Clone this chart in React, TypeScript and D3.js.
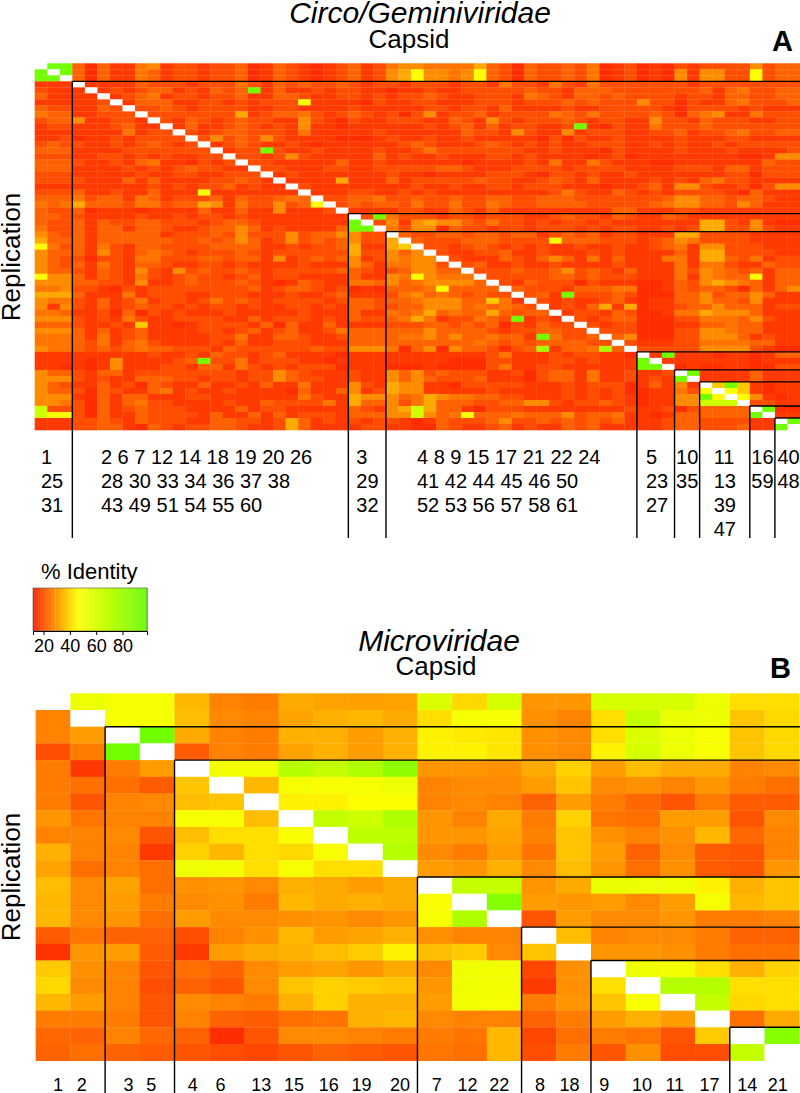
import { useEffect, useRef } from 'react';
import * as d3 from 'd3';

// % identity for each colour step used when reading panel A off the picture
const levelIdentity: Record<string, number> = {
  '0': 14, '1': 16, '2': 19, '3': 22, '4': 25, '5': 28.5, '6': 33, '7': 38, '8': 46, '9': 62, h: 75, g: 94, w: 100,
};

const panelARows = [
  'wgg3031145 1221223013 2101231245 5444463203 2232401201 0212222523 3',
  'gwg3031143 1221223013 2101231256 8554583203 2232401201 0515522823 3',
  'ggw3031143 1221223013 2101231256 8554583203 2232401201 0515522823 3',
  '111w111132 2212224213 2322321221 2221221422 1421422222 2212222222 2',
  '2111w12123 3121323g13 1121221101 1211222223 2213332222 2223134223 3',
  '31111w1234 1221223113 3211221212 2321122214 3213323222 2122133223 3',
  '111112w133 3112212122 2811110211 2211122212 2232322252 2021134222 3',
  '3221132w22 3212222112 2111121111 1221221311 1121122222 1022221211 1',
  '43311222w2 2222226123 3421232120 2512231222 2432422223 2034511422 2',
  '233511221w 2132123221 1521021122 2113215212 2232122115 2213222112 2',
  '1221112311 w131123212 1511011111 1212313122 112g102114 2223222222 2',
  '1111111412 2w21233222 1411111211 1111322152 1151222112 2312234223 3',
  '1120112122 22w2523252 1111000121 1211211111 0202112111 1211122111 1',
  '2322112123 212w123211 2101111112 3211123212 1211222112 1211212222 2',
  '3331111222 2222w122g2 1121111211 2422222221 1211102111 1211121111 2',
  '2221122121 21122w2212 5211111312 1121112212 1111012011 1111110015 5',
  '3332112134 110212w221 1111311211 1111011112 1411421110 0111111132 2',
  '3331111212 1232211w22 1112211222 2233211122 2212222111 1222133122 2',
  '2221111121 12211222w1 2111111121 1011112221 0221211211 1111122022 2',
  '2222111313 111122321w 1111611131 2222232211 2321311112 1213422111 1',
  '1111111112 1212231211 w211111111 2112112212 2211101123 1552112025 5',
  '2223112113 1118111111 1w11122112 1211111111 1242113212 1222210311 1',
  '3334233143 1222313223 43w2233422 3223223322 3332222222 3553323321 1',
  '4346333244 2336514225 238w232332 4224224322 3333222223 4553325311 1',
  '3223011101 1113113115 1112w11112 2113213111 1111113311 1221111111 1',
  '3322111121 1212212111 11111w2g42 2212212221 1232213211 3211111111 1',
  '3223132233 2221233211 11111gw251 5655324221 2122121111 1116621510 0',
  '4223133133 2112335312 11113ggw42 5503221221 2221212211 2126622521 1',
  '5323133333 1222325222 52335522w3 2233233233 1232312211 1662222111 1',
  '6333133333 3223235312 523235226w 3222333222 2833322212 3542222111 1',
  '8423142133 2222333311 2122361167 w221232121 2112112112 3415522211 1',
  '5333152134 3212223212 2222262253 5w21122311 2111212111 1316622221 1',
  '5322022144 2223323315 1232351254 55w2111321 3531413111 4416632412 2',
  '5323142133 2112212111 1211153144 552w231121 1211112111 1414421132 2',
  '5332132152 1523223212 2222332123 5533w22232 2352321311 1425432313 3',
  '8553132142 1232212312 2111131154 85444w2222 2332322211 1415433813 3',
  '5553322151 1232223210 1321144353 455553w213 2220211100 1325654313 3',
  '4452210212 2222222312 3321201033 3483333w32 2213334400 1323320313 5',
  '6663111412 2211222111 2112311124 53432322w2 31g2223200 0335233531 1',
  '5442131241 2212423212 2221233233 455533741w 2121123101 1335332511 1',
  '5152131232 2121221211 2212133223 3555343432 w121361601 1233533312 2',
  '4431120302 1211121111 1211131143 4634336323 3w12213200 1446555311 1',
  '5552121421 1222211312 2212132234 64122432g1 21w2123300 0224443521 1',
  '3332112171 1012222130 3113111122 2332323021 322w212200 0113343311 1',
  '5553131231 1112212312 3112433333 3533332122 3322w22200 0225543311 1',
  '4443141231 1111224113 3211233334 4535334331 g4223w3500 0225553121 1',
  '4443241342 1111213112 2211133333 3333343232 333322w211 1224444331 1',
  '5443232343 3222132222 2232255540 3505332023 h1334h3w22 2225555210 0',
  '1111111112 1121322123 1111011111 1111112411 12122110w1 g111011013 3',
  '1111015111 123g224122 2110111111 1110002211 12212111gw 1111111011 1',
  '1101015111 2213314212 1222011100 0100002411 22111111gg w010011002 2',
  '5332133122 2222221225 3211121153 5232221120 2331411211 2wg1111311 1',
  '5552121133 3221221225 3221121153 5322231110 2331411212 1gw1111311 1',
  '5321131203 2113112131 1411152165 5110222221 1121222013 151w7g7101 1',
  '5332032113 4121121111 0311351265 5111112111 1121212001 1428w87101 1',
  '5551031331 1122111111 1421165553 4654433221 1121212101 155g8w8510 1',
  '5542031342 2111121132 2224163352 4633322335 5212232101 155999w221 1',
  '9222031232 2211113122 1111132156 9633102221 1111111211 2023333wg0 0',
  '9882031132 2221311313 1222133355 9534833343 3352334110 1333333gw1 1',
  '1112232132 2211332212 6312121221 0132223522 3232323111 233222211w g',
  '1112233103 2122332112 6311112211 0032112312 1132311111 233222311g w',
];

const panelBValues = [
  [100, 52, 49, 49, 35, 27, 26, 33, 32, 31.5, 32, 58, 40, 60, 30, 30, 60, 60, 60, 52, 41, 41],
  [27, 100, 49, 49, 36, 28, 27, 32, 34, 35, 33, 41, 49, 48, 29, 27, 41, 66, 53, 52, 37, 40],
  [27, 31, 100, 94, 33, 27, 26, 34, 34, 31, 34, 44, 43, 42, 29, 28, 41, 58, 52, 48, 37, 40],
  [19, 26, 94, 100, 21, 27, 26, 32, 34, 31, 34, 44, 44, 42, 29, 28, 44, 60, 52, 48, 37, 40],
  [26, 15.5, 26, 31, 100, 50, 50, 71, 66, 73, 84, 30, 30, 29, 33, 39, 31, 36, 33, 33, 27, 28],
  [26, 24, 24, 21, 37, 100, 35, 49, 48, 49, 52, 27, 28, 28, 31, 37, 28, 29, 27, 30, 26, 24],
  [26, 20, 27, 28, 36, 37, 100, 44, 44, 47, 47, 27, 28, 27, 22, 31, 26, 23, 20, 26, 21, 21],
  [30, 25, 27, 27, 48, 48, 36, 100, 66, 63, 73, 30, 27, 33, 26, 39, 25, 24, 31, 31, 20, 28],
  [27, 27, 28, 20, 36, 41, 41, 48, 100, 68, 68, 30, 30, 32, 27, 37, 29, 27, 29, 35, 23, 27],
  [34, 27, 27, 16, 39, 35, 41, 40, 48, 100, 71, 28, 26, 31, 25, 37, 31, 22, 28, 21, 20, 27],
  [32, 24, 27, 24, 52, 50, 41, 49, 41, 41, 100, 31, 30, 34, 28, 36, 30, 24, 29, 21, 20, 30],
  [36, 28, 32, 24, 29, 30, 28, 34, 33, 31, 33, 100, 66, 66, 30, 33, 53, 52, 51, 44, 34, 37],
  [35, 28, 31, 26, 28, 29, 26, 35, 33, 34, 33, 48, 100, 87, 31, 30, 31, 28, 31, 49, 35, 37],
  [35, 28, 30, 24, 31, 28, 28, 29, 30, 28, 30, 48, 73, 100, 20, 31, 28, 28, 30, 26, 26, 27],
  [21, 25, 22, 22, 19, 27, 29, 35, 31, 32, 34, 29, 27, 27, 100, 36, 27, 28, 28, 26, 22, 22],
  [15, 30, 31, 21, 16, 31, 33, 34, 36, 38, 44, 36, 38, 28, 37, 100, 30, 30, 29, 26, 24, 24],
  [38, 29, 27, 20, 24, 22, 28, 31, 32, 30, 33, 28, 51, 50, 18, 29, 100, 51, 50, 41, 34, 39],
  [40, 28, 27, 19, 22, 20, 28, 37, 39, 38, 37, 30, 51, 50, 16, 29, 41, 100, 71, 71, 41, 41],
  [35, 31, 27, 20, 28, 27, 26, 34, 39, 34, 34, 31, 50, 49, 26, 30, 37, 48, 100, 66, 40, 41],
  [26, 26, 26, 20, 27, 22, 21, 24, 25, 34, 35, 28, 27, 27, 22, 26, 31, 34, 31, 100, 24, 33],
  [23, 22, 27, 23, 22, 14, 20, 28, 28, 27, 26, 26, 25, 35, 18, 24, 26, 25, 20, 38, 100, 87],
  [22, 24, 22, 21, 20, 19, 18, 20, 22, 21, 20, 25, 24, 35, 19, 26, 20, 29, 19, 19, 66, 100],
];

const panelABlocks = [3, 22, 3, 20, 3, 2, 4, 2, 2];
const panelBBlocks = [2, 2, 7, 3, 2, 4, 2];

const panelALabels = [
  ['1', '25', '31'],
  ['2 6 7 12 14 18 19 20 26', '28 30 33 34 36 37 38', '43 49 51 54 55 60'],
  ['3', '29', '32'],
  ['4 8 9 15 17 21 22 24', '41 42 44 45 46 50', '52 53 56 57 58 61'],
  ['5', '23', '27'],
  ['10', '35'],
  ['11', '13', '39', '47'],
  ['16', '59'],
  ['40', '48'],
];
const panelALabelInset = [6.3, 28.6, 8, 31, 9, 1.5, 14, 1.5, 2.5];

const panelBLabels = ['1', '2', '3', '5', '4', '6', '13', '15', '16', '19', '20', '7', '12', '22', '8', '18', '9', '10', '11', '17', '14', '21'];
const panelBLabelNudge = [5, -6, 6, -6, 1, -6, 0, -2, -2, -4, 0, 2, -2, -5, 1, -4, -4, -1, -3, -3, 0, -4];

const legendTicks = [20, 40, 60, 80];

const FONT = '"Liberation Sans", Arial, sans-serif';
const WIDTH = 800;
const HEIGHT = 1093;

const color = d3.scaleLinear<string>().domain([12, 46, 98]).range(['#ff2000', '#ffff00', '#66ff00']);
const cellColor = (v: number) => (v >= 100 ? '#ffffff' : color(v));

const panelAValues = panelARows.map(r => r.replace(/ /g, '').split('').map(c => levelIdentity[c]));

type Svg = d3.Selection<SVGSVGElement, unknown, null, undefined>;

function drawMatrix(svg: Svg, values: number[][], blocks: number[], left: number, right: number, top: number, bottom: number, lineEnd: number) {
  const idx = d3.range(values.length).map(String);
  const x = d3.scaleBand().domain(idx).range([left, right]);
  const y = d3.scaleBand().domain(idx).range([top, bottom]);

  const g = svg.append('g');
  values.forEach((row, r) => {
    g.selectAll(null)
      .data(row)
      .join('rect')
      .attr('x', (_, c) => x(String(c)) as number)
      .attr('y', y(String(r)) as number)
      .attr('width', x.bandwidth() + 0.3)
      .attr('height', y.bandwidth() + 0.3)
      .attr('fill', d => cellColor(d));
  });

  // block separators start at every block but the first
  const starts = d3.cumsum(blocks).slice(0, -1);
  const seps = svg.append('g').attr('stroke', '#000').attr('stroke-width', 1.4);
  starts.forEach(s => {
    const px = x(String(s)) as number;
    const py = y(String(s)) as number;
    seps.append('line').attr('x1', px).attr('x2', px).attr('y1', py).attr('y2', lineEnd);
    seps.append('line').attr('x1', px).attr('x2', WIDTH).attr('y1', py).attr('y2', py);
  });
  return { x, y };
}

function addText(svg: Svg, text: string, x: number, y: number, size: number, anchor = 'start', extra: Record<string, string> = {}) {
  const t = svg
    .append('text')
    .attr('x', x)
    .attr('y', y)
    .attr('font-size', size)
    .attr('text-anchor', anchor)
    .attr('fill', '#000')
    .text(text);
  Object.entries(extra).forEach(([k, v]) => t.attr(k, v));
  return t;
}

export default function App() {
  const ref = useRef<SVGSVGElement | null>(null);

  useEffect(() => {
    if (!ref.current) return;
    const svg = d3.select(ref.current) as unknown as Svg;
    svg.selectAll('*').remove();

    // Panel A
    addText(svg, 'Circo/Geminiviridae', 420, 23, 30, 'middle', { 'font-style': 'italic' });
    addText(svg, 'Capsid', 409, 48, 26, 'middle');
    addText(svg, 'A', 772, 50.5, 29, 'start', { 'font-weight': 'bold' });
    addText(svg, 'Replication', 0, 0, 26, 'middle', { transform: 'translate(20,257) rotate(-90)' });

    const a = drawMatrix(svg, panelAValues, panelABlocks, 34.7, 800, 63.3, 430, 538);
    const aStarts = [0, ...d3.cumsum(panelABlocks)];
    panelALabels.forEach((lines, b) => {
      const bx = (a.x(String(aStarts[b])) as number) + panelALabelInset[b];
      lines.forEach((line, i) => addText(svg, line, bx, 463.5 + i * 24, 20));
    });

    // Legend
    const legendScale = d3.scaleLinear().domain([12, 98.6]).range([33, 147]);
    addText(svg, '% Identity', 41, 579, 22);
    svg
      .append('g')
      .selectAll('rect')
      .data(d3.range(12, 98.6, 0.5))
      .join('rect')
      .attr('x', d => legendScale(d))
      .attr('y', 588)
      .attr('width', 1)
      .attr('height', 43)
      .attr('fill', d => color(d));
    svg
      .append('line')
      .attr('x1', legendScale(29))
      .attr('x2', legendScale(29))
      .attr('y1', 588)
      .attr('y2', 631)
      .attr('stroke', '#ffb878')
      .attr('stroke-width', 0.7);
    svg
      .append('rect')
      .attr('x', 33)
      .attr('y', 588)
      .attr('width', 114)
      .attr('height', 43)
      .attr('fill', 'none')
      .attr('stroke', '#555')
      .attr('stroke-width', 0.6);
    svg
      .append('g')
      .attr('transform', 'translate(0,631)')
      .call(d3.axisBottom(legendScale).tickValues(legendTicks).tickSize(4).tickPadding(4))
      .call(g => g.select('.domain').attr('stroke-width', 1))
      .call(g => g.selectAll('text').attr('font-size', 18).attr('font-family', FONT).attr('fill', '#000'));

    // Panel B
    addText(svg, 'Microviridae', 439, 651, 30, 'middle', { 'font-style': 'italic' });
    addText(svg, 'Capsid', 436, 675, 26, 'middle');
    addText(svg, 'B', 770, 678, 29, 'start', { 'font-weight': 'bold' });
    addText(svg, 'Replication', 0, 0, 26, 'middle', { transform: 'translate(20,877) rotate(-90)' });

    const b = drawMatrix(svg, panelBValues, panelBBlocks, 35.7, 799.2, 693.3, 1060.7, 1093);
    panelBLabels.forEach((label, i) => {
      const cx = (b.x(String(i)) as number) + b.x.bandwidth() / 2 + panelBLabelNudge[i];
      addText(svg, label, cx, 1091, 18, 'middle');
    });
  }, []);

  return (
    <svg
      ref={ref}
      width={WIDTH}
      height={HEIGHT}
      viewBox={`0 0 ${WIDTH} ${HEIGHT}`}
      fontFamily={FONT}
      style={{ position: 'absolute', left: 0, top: 0, display: 'block', background: '#fff' }}
    />
  );
}
